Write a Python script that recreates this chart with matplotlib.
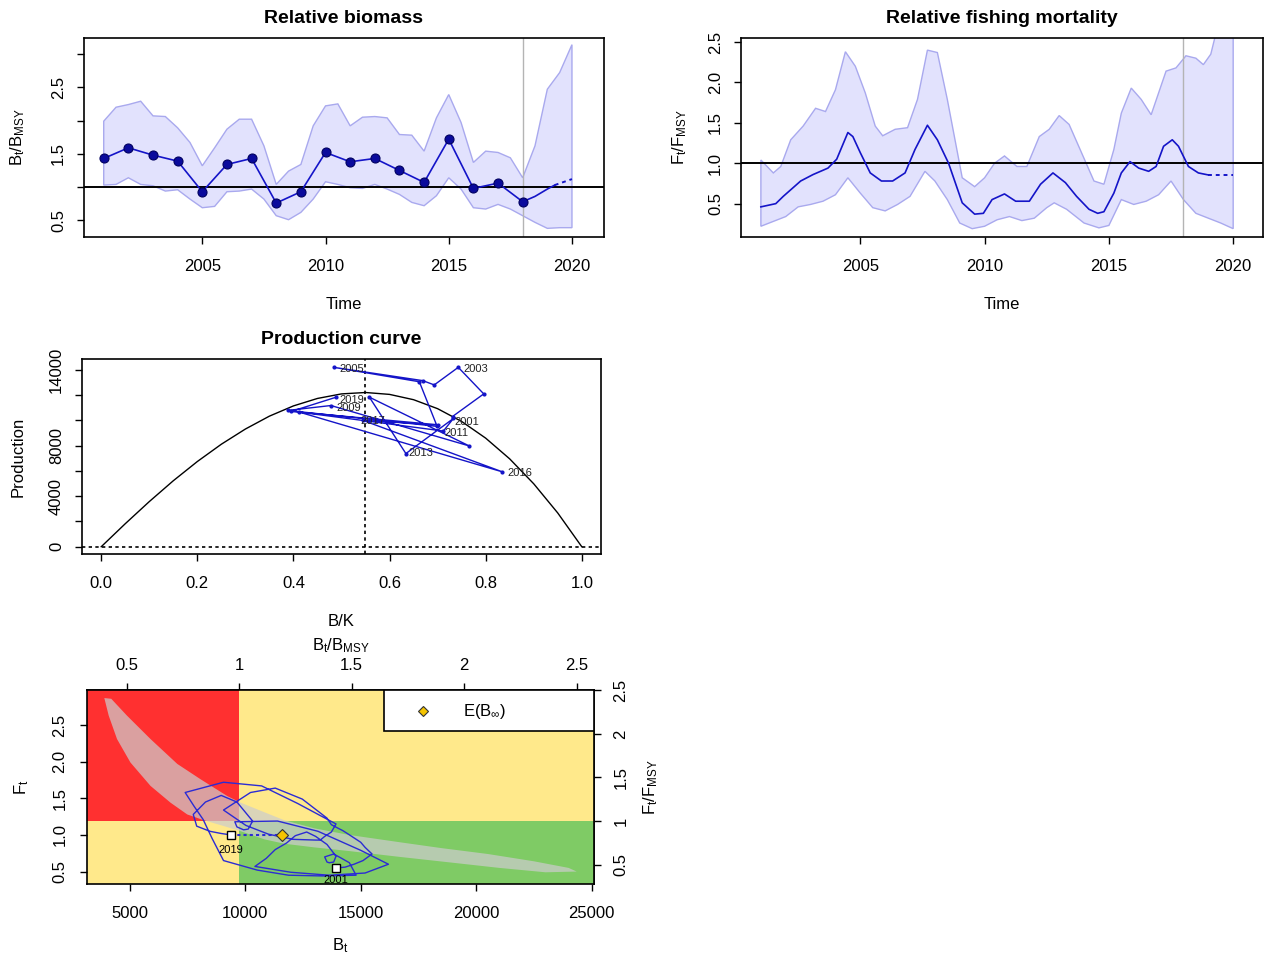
import numpy as np
import matplotlib
matplotlib.use("Agg")
import matplotlib.pyplot as plt
from matplotlib.patches import Rectangle

plt.rcParams.update({
    "font.family": ["Liberation Sans", "DejaVu Sans"],
    "mathtext.fontset": "custom",
    "mathtext.rm": "Liberation Sans",
    "mathtext.it": "Liberation Sans",
    "mathtext.default": "regular",
    "font.size": 12,
    "axes.linewidth": 1.2,
    "xtick.direction": "out", "ytick.direction": "out",
    "xtick.major.size": 5, "ytick.major.size": 5,
    "xtick.major.width": 1.0, "ytick.major.width": 1.0,
    "xtick.major.pad": 11, "ytick.major.pad": 8,
    "xtick.labelsize": 12, "ytick.labelsize": 12,
})

# ---- relative biomass B/Bmsy ----
bio_years = np.arange(2001, 2019)
bio_obs = [1.43, 1.59, 1.48, 1.39, 0.93, 1.34, 1.43, 0.76, 0.93,
           1.52, 1.38, 1.43, 1.25, 1.07, 1.72, 0.98, 1.06, 0.78]
bio_tail_t = [2018.5, 2019.0, 2019.3]
bio_tail = [0.86, 0.97, 1.03]
bio_fore_t = [2019.3, 2020.0]
bio_fore = [1.03, 1.12]
bio_ci_t = np.arange(2001, 2020.01, 0.5)
bio_hi = [1.99, 2.20, 2.24, 2.29, 2.07, 2.06, 1.89, 1.67, 1.32, 1.59,
          1.87, 2.02, 2.02, 1.62, 1.04, 1.24, 1.34, 1.92, 2.22, 2.25,
          1.92, 2.05, 2.06, 2.04, 1.79, 1.78, 1.54, 2.04, 2.39, 1.97,
          1.37, 1.54, 1.52, 1.44, 1.14, 1.62, 2.47, 2.72, 3.14]
bio_lo = [1.03, 1.04, 1.14, 1.04, 1.02, 0.94, 0.96, 0.82, 0.69, 0.71,
          0.93, 0.94, 0.97, 0.82, 0.57, 0.51, 0.62, 0.82, 1.08, 1.04,
          0.99, 0.98, 1.04, 0.97, 0.89, 0.77, 0.72, 0.87, 1.14, 0.97,
          0.69, 0.67, 0.74, 0.67, 0.57, 0.47, 0.38, 0.39, 0.39]

# ---- relative fishing mortality F/Fmsy ----
f_t = [2001.0, 2001.6, 2001.9, 2002.6, 2003.1, 2003.7, 2004.05, 2004.5,
       2004.7, 2005.0, 2005.4, 2005.85, 2006.3, 2006.8, 2007.2, 2007.7,
       2008.1, 2008.55, 2009.1, 2009.6, 2009.95, 2010.3, 2010.8, 2011.25,
       2011.8, 2012.25, 2012.75, 2013.25, 2013.7, 2014.2, 2014.55, 2014.8,
       2015.2, 2015.5, 2015.85, 2016.2, 2016.6, 2016.9, 2017.2, 2017.55,
       2017.8, 2018.2, 2018.6, 2019.0]
f_rel = [0.46, 0.50, 0.59, 0.78, 0.86, 0.94, 1.05, 1.38, 1.33, 1.13, 0.88,
         0.78, 0.78, 0.88, 1.17, 1.47, 1.29, 1.00, 0.51, 0.37, 0.38, 0.55,
         0.62, 0.53, 0.53, 0.74, 0.88, 0.76, 0.59, 0.43, 0.38, 0.40, 0.63,
         0.88, 1.02, 0.94, 0.90, 0.96, 1.21, 1.29, 1.21, 0.96, 0.88, 0.855]
f_fore_t = [2019.0, 2020.0]
f_fore = [0.855, 0.855]
f_hi_t = [2001.0, 2001.5, 2001.8, 2002.2, 2002.7, 2003.2, 2003.6, 2004.0,
          2004.4, 2004.8, 2005.2, 2005.6, 2005.9, 2006.4, 2006.9, 2007.3,
          2007.7, 2008.1, 2008.5, 2009.1, 2009.6, 2010.0, 2010.4, 2010.8,
          2011.3, 2011.7, 2012.2, 2012.6, 2013.0, 2013.4, 2013.9, 2014.4,
          2014.8, 2015.2, 2015.5, 2015.9, 2016.3, 2016.7, 2017.0, 2017.3,
          2017.7, 2018.1, 2018.5, 2018.8, 2019.1, 2019.3, 2019.6, 2020.0]
f_hi = [1.04, 0.88, 0.96, 1.29, 1.46, 1.68, 1.64, 1.91, 2.38, 2.20, 1.87,
        1.46, 1.34, 1.42, 1.44, 1.79, 2.40, 2.37, 1.79, 0.82, 0.71, 0.82,
        1.00, 1.09, 0.96, 0.96, 1.33, 1.42, 1.59, 1.48, 1.13, 0.78, 0.74,
        1.17, 1.62, 1.93, 1.79, 1.60, 1.87, 2.14, 2.18, 2.33, 2.30, 2.22,
        2.35, 2.60, 2.90, 3.20]
f_lo_t = [2001.0, 2001.5, 2002.0, 2002.5, 2003.0, 2003.5, 2004.0, 2004.5,
          2005.0, 2005.5, 2006.0, 2006.5, 2007.0, 2007.6, 2008.0, 2008.5,
          2009.0, 2009.5, 2010.0, 2010.5, 2011.0, 2011.5, 2012.0, 2012.5,
          2012.8, 2013.3, 2014.0, 2014.6, 2015.0, 2015.5, 2016.0, 2016.5,
          2017.0, 2017.5, 2018.0, 2018.5, 2019.0, 2019.5, 2020.0]
f_lo = [0.22, 0.28, 0.34, 0.46, 0.49, 0.53, 0.61, 0.82, 0.63, 0.45, 0.41,
        0.49, 0.59, 0.90, 0.78, 0.55, 0.26, 0.19, 0.22, 0.30, 0.34, 0.29,
        0.32, 0.45, 0.51, 0.43, 0.26, 0.20, 0.23, 0.55, 0.49, 0.53, 0.61,
        0.78, 0.55, 0.38, 0.32, 0.26, 0.19]

# ---- production curve ----
prod_bk = np.round(np.arange(0, 1.001, 0.05), 2)
prod_val = [0, 1820, 3570, 5220, 6740, 8110, 9310, 10330, 11140, 11730,
            12090, 12200, 12050, 11630, 10920, 9910, 8590, 6950, 4980,
            2670, 0]
bmsy_k = 0.548
traj_bk = [0.731, 0.796, 0.743, 0.693, 0.669, 0.484, 0.662, 0.699, 0.388,
           0.478, 0.766, 0.558, 0.634, 0.733, 0.712, 0.412, 0.835, 0.545,
           0.700, 0.395, 0.489]
traj_p = [10300, 12090, 14190, 12800, 13140, 14190, 13050, 9520, 10780,
          11170, 7970, 11830, 7370, 10150, 9150, 10650, 5920, 9990, 9650,
          10700, 11830]
traj_lab = ["2005", "2003", "2019", "2009", "2017", "2001", "2011", "2013",
            "2016"]
traj_lab_bk = [0.495, 0.753, 0.495, 0.489, 0.540, 0.736, 0.715, 0.640, 0.846]
traj_lab_p = [14080, 14080, 11640, 11010, 9910, 9830, 8970, 7390, 5820]

# ---- kobe ----
BMSY, FMSY = 9740, 1.19
kobe_b = [13930, 14320, 14710, 15100, 15490, 15190, 15000, 14710, 14420,
          14220, 14030, 13730, 13540, 12470, 11300, 10230, 9060, 10030,
          11010, 12080, 13050, 13250, 13440, 13730, 13930, 12270, 10710,
          9060, 7400, 7790, 8180, 8570, 9060, 10520, 11880, 13340, 14800,
          14510, 14120, 13830, 13440, 13540, 13640, 13830, 13930, 13540,
          13050, 12660, 12170, 11790, 11300, 10910, 10420, 11980, 13640,
          15190, 16200, 15000, 13150, 11400, 9550, 9640, 9930, 10130,
          10320, 9640, 8960, 8280, 7750, 7900, 8470, 8960, 9390]
kobe_f = [0.55, 0.56, 0.60, 0.65, 0.74, 0.83, 0.90, 0.96, 1.02, 1.06,
          1.09, 1.14, 1.23, 1.49, 1.64, 1.58, 1.34, 1.13, 1.01, 0.94,
          0.93, 0.93, 0.98, 1.04, 1.15, 1.43, 1.67, 1.72, 1.58, 1.39,
          1.21, 0.95, 0.65, 0.52, 0.45, 0.44, 0.45, 0.62, 0.69, 0.74,
          0.70, 0.63, 0.62, 0.63, 0.71, 0.87, 0.98, 1.04, 0.99, 0.89,
          0.80, 0.68, 0.57, 0.49, 0.45, 0.48, 0.60, 0.79, 1.05, 1.19,
          1.18, 1.11, 1.07, 1.08, 1.19, 1.45, 1.54, 1.45, 1.28, 1.12,
          1.05, 1.02, 1.00]
kobe_years = ["2001", "2019"]
einf_b, einf_f = 11600, 1.00
band_b = [3900, 4200, 4880, 5900, 7060, 8070, 9230, 9810, 10830, 11700,
          13000, 14500, 16700, 18500, 20500, 22500, 24000, 24350,
          23000, 21000, 19000, 16700, 14500, 13000, 11700, 10830, 9810,
          9090, 8220, 7490, 6770, 5900, 5030, 4450, 4090]
band_f = [2.87, 2.86, 2.63, 2.31, 1.97, 1.76, 1.53, 1.44, 1.31, 1.20,
          1.09, 1.00, 0.90, 0.82, 0.74, 0.64, 0.55, 0.50,
          0.49, 0.55, 0.62, 0.70, 0.78, 0.83, 0.88, 0.94, 1.05,
          1.12, 1.20, 1.28, 1.44, 1.67, 1.99, 2.31, 2.63]

BLUE = "#1414c8"
CI_FILL, CI_EDGE = "#e2e2fd", "#a9a9ee"
W, H = 1274, 959
fig = plt.figure(figsize=(W / 100, H / 100), dpi=100)


def box(l, t, r, b):
    return fig.add_axes([l / W, 1 - b / H, (r - l) / W, (b - t) / H])


def rot_yticks(ax):
    ax.tick_params(axis="y", labelrotation=90)
    for lab in ax.get_yticklabels():
        lab.set_va("center")


def ylab(ax, text, x):
    ax.set_ylabel(text)
    ax.yaxis.set_label_coords(x, 0.5)
    ax.yaxis.label.set_va("center")


# relative biomass
ax = box(84, 38, 604, 237)
ax.fill(np.r_[bio_ci_t, bio_ci_t[::-1]], np.r_[bio_hi, bio_lo[::-1]],
        fc=CI_FILL, ec=CI_EDGE, lw=1)
ax.axvline(2018, color="#b4b4b4", lw=1)
ax.axhline(1, color="black", lw=1.4)
ax.plot(np.r_[bio_years, bio_tail_t], np.r_[bio_obs, bio_tail],
        color=BLUE, lw=1.2)
ax.plot(bio_fore_t, bio_fore, color=BLUE, lw=1.4, ls=(0, (2, 2)))
ax.plot(bio_years, bio_obs, "o", ms=6.5, mfc="#0a0a9c", mec="#000060",
        mew=0.8)
ax.set_xlim(2000.2, 2021.3)
ax.set_ylim(0.25, 3.24)
ax.set_xticks([2005, 2010, 2015, 2020])
ax.set_yticks([0.5, 1.0, 1.5, 2.0, 2.5, 3.0],
              ["0.5", "", "1.5", "", "2.5", ""])
rot_yticks(ax)
ax.set_title("Relative biomass", fontweight="bold", fontsize=14, pad=11)
ax.set_xlabel("Time")
ax.xaxis.set_label_coords(0.5, -0.30)
ylab(ax, r"$B_t/B_{MSY}$", -0.127)

# relative fishing mortality
ax = box(741, 38, 1263, 237)
ax.fill(np.r_[f_hi_t, f_lo_t[::-1]], np.r_[f_hi, f_lo[::-1]],
        fc=CI_FILL, ec=CI_EDGE, lw=1)
ax.axvline(2018, color="#b4b4b4", lw=1)
ax.axhline(1, color="black", lw=1.4)
ax.plot(f_t, f_rel, color=BLUE, lw=1.2)
ax.plot(f_fore_t, f_fore, color=BLUE, lw=1.4, ls=(0, (2, 2)))
ax.set_xlim(2000.2, 2021.2)
ax.set_ylim(0.087, 2.55)
ax.set_xticks([2005, 2010, 2015, 2020])
ax.set_yticks([0.5, 1.0, 1.5, 2.0, 2.5])
rot_yticks(ax)
ax.set_title("Relative fishing mortality", fontweight="bold", fontsize=14,
             pad=11)
ax.set_xlabel("Time")
ax.xaxis.set_label_coords(0.5, -0.30)
ylab(ax, r"$F_t/F_{MSY}$", -0.117)

# production curve
ax = box(82, 359, 601, 554)
ax.plot(prod_bk, prod_val, color="black", lw=1)
ax.axvline(bmsy_k, color="black", lw=1.2, ls=(0, (2, 2)))
ax.axhline(0, color="black", lw=1.2, ls=(0, (2, 2)))
ax.plot(traj_bk, traj_p, color=BLUE, lw=1, marker=".", ms=4)
for s, x, y in zip(traj_lab, traj_lab_bk, traj_lab_p):
    ax.text(x, y, s, fontsize=8, ha="left", va="center", color="#222222")
ax.set_xlim(-0.04, 1.04)
ax.set_ylim(-575, 14850)
ax.set_xticks(np.round(np.arange(0, 1.01, 0.2), 1))
ax.set_yticks(np.arange(0, 14001, 2000),
              ["0", "", "4000", "", "8000", "", "", "14000"])
rot_yticks(ax)
ax.set_title("Production curve", fontweight="bold", fontsize=14, pad=11)
ax.set_xlabel("B/K")
ax.xaxis.set_label_coords(0.5, -0.31)
ylab(ax, "Production", -0.123)

# kobe plot
ax = box(87, 690, 594, 884)
ax.add_patch(Rectangle((0, FMSY), BMSY, 10, fc="#ff3030", lw=0))
ax.add_patch(Rectangle((0, 0), BMSY, FMSY, fc="#ffe98b", lw=0))
ax.add_patch(Rectangle((BMSY, FMSY), 1e5, 10, fc="#ffe98b", lw=0))
ax.add_patch(Rectangle((BMSY, 0), 1e5, FMSY, fc="#7fcb65", lw=0))
ax.fill(band_b, band_f, color="#cccccc", alpha=0.72, lw=0)
ax.plot(kobe_b, kobe_f, color="#2b2bd4", lw=1.0)
ax.plot([kobe_b[-1], einf_b], [kobe_f[-1], einf_f], color="#2b2bd4",
        lw=1.5, ls=(0, (1.5, 1.5)))
ax.plot([kobe_b[0], kobe_b[-1]], [kobe_f[0], kobe_f[-1]], "s", ms=6,
        mfc="white", mec="black", mew=1, ls="none")
ax.plot([einf_b], [einf_f], "D", ms=6, mfc="#f5c400", mec="#333333",
        mew=0.8)
ax.text(kobe_b[0], kobe_f[0] - 0.17, kobe_years[0], fontsize=8,
        ha="center", va="center")
ax.text(kobe_b[-1], kobe_f[-1] - 0.21, kobe_years[-1], fontsize=8,
        ha="center", va="center")
ax.set_xlim(3150, 25100)
ax.set_ylim(0.33, 2.98)

# legend box in the upper right corner
ax.add_patch(Rectangle((0.585, 0.789), 0.415, 0.211, transform=ax.transAxes,
                       fc="white", ec="black", lw=1.2, zorder=5))
ax.plot([0.662], [0.891], "D", ms=5.5, mfc="#f5c400", mec="#333333",
        mew=0.8, transform=ax.transAxes, zorder=6)
ax.text(0.741, 0.891, r"E(B$_\infty$)", transform=ax.transAxes,
        va="center", ha="left", fontsize=12, zorder=6)

ax.set_xticks([5000, 10000, 15000, 20000, 25000])
ax.set_yticks([0.5, 1.0, 1.5, 2.0, 2.5])
ax.tick_params(axis="y", pad=9)
rot_yticks(ax)
ax.set_xlabel(r"$B_t$")
ax.xaxis.set_label_coords(0.5, -0.27)
ylab(ax, r"$F_t$", -0.128)

top = ax.secondary_xaxis("top", functions=(lambda b: b / BMSY,
                                           lambda r: r * BMSY))
top.set_xticks([0.5, 1, 1.5, 2, 2.5], ["0.5", "1", "1.5", "2", "2.5"])
top.tick_params(axis="x", pad=7)
top.set_xlabel(r"$B_t/B_{MSY}$", labelpad=6)
right = ax.secondary_yaxis("right", functions=(lambda f: f / FMSY,
                                               lambda r: r * FMSY))
right.set_yticks([0.5, 1, 1.5, 2, 2.5], ["0.5", "1", "1.5", "2", "2.5"])
right.tick_params(axis="y", labelrotation=90, pad=9)
for lab in right.get_yticklabels():
    lab.set_va("center")
right.set_ylabel(r"$F_t/F_{MSY}$", labelpad=9)

fig.savefig("out.png", dpi=100)
